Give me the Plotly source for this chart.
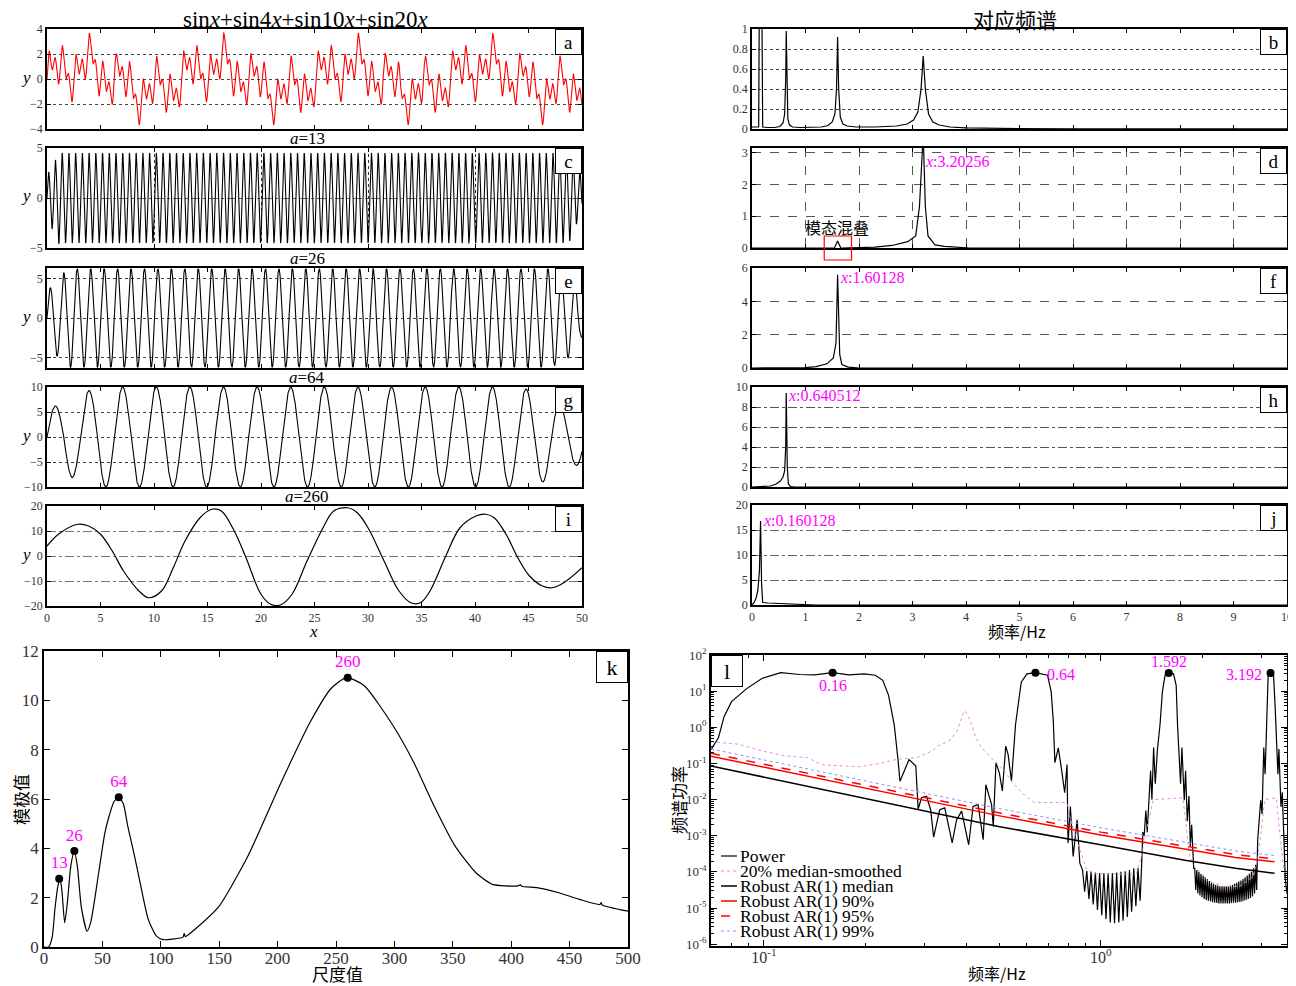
import numpy as np
import plotly.graph_objects as go

# reference canvas is 1296x986; the page body adds an 8px top/left margin, so the figure is shifted by 8px
W, H = 1296, 986
OFF = 8
FW, FH = W - OFF, H - OFF

# ---------------- DATA ----------------
# panel a: the signal named in the title, sin x+sin4x+sin10x+sin20x ; plotted axis value = 2 * argument
a_multipliers = [1, 4, 10, 20]
a_axis_to_arg = 0.5
x_max = 50

# wavelet components c, e, g: angular rate per axis unit and per-half-cycle amplitudes
c_rate = 10.0
c_amp_head = [2.6, 3.1, 3.8, 4.6]
c_amp_body = 4.5
c_amp_tail = [4.4, 4.3, 4.2, 2.6, 2.7, 1.2]
e_rate = 5.0
e_amp_head = [3.8, 4.8, 5.7, 6.2]
e_amp_body = 6.2
e_amp_tail = [6.0, 5.6, 5.0, 4.8, 2.4]
g_rate = 2.0
g_amp_head = [6.2, 8.1, 9.3]
g_amp_body = 10.0
g_amp_tail = [9.6, 9.0, 6.5, 5.7]

# panel i (a=260): points
i_x = [0, 1.07, 2.86, 3.9, 5.0, 6.1, 7.15, 8.6, 9.5, 10.7, 11.8, 12.9, 14.3, 15.4, 16.3, 17.5, 18.6,
       20.0, 20.9, 21.8, 22.9, 24.3, 25.8, 26.8, 28.1, 29.0, 30.0, 31.5, 32.9, 34.0, 34.9, 35.8,
       37.2, 38.6, 40.1, 41.0, 41.8, 42.9, 44.0, 45.1, 46.3, 47.2, 48.3, 50.0]
i_y = [4.0, 8.7, 12.7, 12.0, 8.7, 2.0, -6.0, -14.0, -16.7, -14.0, -4.7, 6.0, 15.3, 18.7, 18.0, 10.0, -0.7,
       -15.3, -19.3, -19.6, -15.3, -2.0, 11.3, 18.0, 19.3, 17.3, 11.3, -2.0, -14.0, -18.7, -18.7, -14.0,
       -0.7, 11.3, 16.0, 16.7, 15.3, 8.7, -0.7, -8.0, -12.0, -12.7, -10.7, -4.7]

# spectra (frequency Hz, amplitude)
b_f = [0, 0.12, 0.125, 0.14, 0.18, 0.195, 0.2, 0.3, 0.42, 0.52, 0.58, 0.61, 0.63, 0.64, 0.65, 0.67, 0.7, 0.76,
       0.9, 1.1, 1.3, 1.42, 1.5, 1.55, 1.58, 1.6, 1.62, 1.65, 1.7, 1.78, 1.95, 2.3, 2.7, 2.9, 3.02, 3.1, 3.16,
       3.2, 3.24, 3.3, 3.38, 3.5, 3.7, 4.0, 4.5, 5.0, 6.0, 8.0, 10.0]
b_v = [0.02, 0.02, 0.03, 1.6, 1.6, 0.03, 0.02, 0.015, 0.015, 0.025, 0.06, 0.15, 0.5, 0.98, 0.5, 0.1, 0.04, 0.02,
       0.015, 0.015, 0.02, 0.035, 0.07, 0.15, 0.4, 0.92, 0.4, 0.12, 0.05, 0.03, 0.02, 0.02, 0.03, 0.05, 0.09, 0.17, 0.4,
       0.73, 0.4, 0.15, 0.07, 0.04, 0.02, 0.012, 0.007, 0.004, 0.002, 0.001, 0.001]
d_f = [0, 1.3, 1.54, 1.6, 1.66, 2.0, 2.3, 2.62, 2.91, 3.06, 3.13, 3.2, 3.24, 3.29, 3.42, 3.6, 3.78, 4.07, 4.5, 10]
d_v = [0, 0, 0, 0.22, 0, 0.01, 0.03, 0.08, 0.2, 0.38, 1.3, 3.6, 1.3, 0.38, 0.1, 0.05, 0.03, 0.0, 0, 0]
f_f = [0, 1.0, 1.2, 1.4, 1.52, 1.57, 1.6, 1.62, 1.64, 1.68, 1.8, 2.0, 10]
f_v = [0, 0.02, 0.08, 0.25, 0.6, 1.5, 5.6, 2.0, 0.8, 0.2, 0.05, 0.0, 0]
h_f = [0, 0.2, 0.35, 0.45, 0.53, 0.58, 0.61, 0.63, 0.64, 0.66, 0.68, 0.72, 0.8, 10]
h_v = [0, 0.02, 0.1, 0.3, 0.6, 1.0, 1.6, 4.0, 9.4, 2.0, 0.3, 0.05, 0, 0]
j_f = [0, 0.04, 0.08, 0.11, 0.14, 0.16, 0.18, 0.2, 0.3, 0.5, 0.8, 1.0, 1.2, 10]
j_v = [0, 0.5, 1.5, 3.0, 7.0, 16.8, 4.0, 0.5, 0.4, 0.3, 0.2, 0.05, 0, 0]

spec_labels = {"d": (3.20256, "3.20256", 0.87), "f": (1.60128, "1.60128", 0.91),
               "h": (0.640512, "0.640512", 0.92), "j": (0.160128, "0.160128", 0.85)}

# panel k: modulus maxima vs scale
k_scale = [0, 4, 7, 9.6, 12, 13.8, 15.5, 17.7, 20, 23, 25.9, 28.5, 32, 36.9, 40, 46.8, 52, 55.7, 60, 64.2,
           68, 71.7, 77, 82.3, 89.4, 96.5, 101.9, 110, 119, 120, 121, 130, 149.8, 174.6, 203, 227.8, 245.6,
           259, 274, 298.8, 316.6, 334, 352, 369.8, 384, 405, 408, 409, 423, 440.8, 458.5, 476, 477, 478, 500]
k_val = [0, 0.0, 0.4, 1.65, 2.5, 2.77, 2.2, 0.98, 1.8, 3.3, 3.89, 3.3, 1.6, 0.64, 1.0, 3.0, 4.6, 5.3, 5.9, 6.07,
         5.8, 4.9, 3.8, 2.6, 1.1, 0.43, 0.30, 0.32, 0.40, 0.55, 0.42, 0.75, 1.65, 3.69, 6.67, 9.11, 10.47,
         10.92, 10.6, 8.98, 7.48, 5.72, 4.09, 3.01, 2.54, 2.47, 2.52, 2.46, 2.40, 2.20, 1.93, 1.72, 1.8, 1.7, 1.45]
k_peaks = [13, 26, 64, 260]
k_peak_val = [2.77, 3.89, 6.07, 10.92]

# panel l: power spectrum (log10 frequency, log10 power)
l_pow_lf = [-1.157, -1.135, -1.118, -1.096, -1.051, -1.006, -0.95, -0.894, -0.849, -0.796, -0.748, -0.703,
            -0.669, -0.647, -0.630, -0.613, -0.602, -0.596, -0.569, -0.549, -0.542, -0.532, -0.517, -0.505,
            -0.496, -0.478, -0.463, -0.441, -0.428, -0.413, -0.392, -0.379, -0.364, -0.349, -0.341, -0.324,
            -0.319, -0.311, -0.301, -0.292, -0.282, -0.275, -0.265, -0.253, -0.236, -0.219, -0.194, -0.169,
            -0.158, -0.147, -0.141, -0.136, -0.126, -0.117, -0.107, -0.100, -0.097, -0.090, -0.082, -0.070,
            -0.062]
l_pow_lp = [-0.62, -0.29, 0.30, 0.71, 1.07, 1.35, 1.51, 1.46, 1.45, 1.51, 1.45, 1.48,
            1.44, 1.30, 0.89, 0.07, -0.88, -1.49, -0.89, -1.07, -2.26, -1.95, -1.91, -2.28,
            -3.04, -2.28, -2.23, -3.2, -2.56, -2.32, -3.25, -2.19, -2.14, -3.11, -1.59, -2.14,
            -2.74, -0.98, -1.26, -1.76, -0.52, -0.75, -1.49, 0.07, 1.25, 1.48, 1.51, 1.46,
            1.44, 0.98, 0.2, -0.98, -0.57, -1.12, -1.81, -1.03, -3.2, -2.19, -3.57, -2.56,
            -3.76]
# dense side-lobes 1 (between 0.64 and 1.592 peaks)
l_lobe1_lf = (-0.054, 0.117)
l_lobe1_top = [-3.95, -3.98, -4.0, -4.02, -4.03, -4.03, -4.03, -4.03, -4.02, -4.0, -3.98, -3.95, -3.9, -3.9]
l_lobe1_bot = [-4.55, -4.75, -4.9, -5.05, -5.2, -5.3, -5.4, -5.42, -5.4, -5.35, -5.25, -5.1, -4.95, -4.8]
l_pk2_lf = [0.121, 0.125, 0.129, 0.134, 0.138, 0.143, 0.148, 0.152, 0.157, 0.162, 0.168, 0.176, 0.183, 0.191,
            0.204, 0.216, 0.224, 0.228, 0.232, 0.237, 0.241, 0.248, 0.252, 0.257, 0.262, 0.266, 0.270, 0.276]
l_pk2_lp = [-3.93, -2.9, -3.0, -2.3, -2.9, -2.2, -1.2, -2.0, -0.56, -1.56, -0.65, 0.07, 0.98, 1.44,
            1.51, 1.48, 1.16, 0.07, -0.75, -1.56, -0.56, -2.02, -1.2, -2.6, -1.9, -3.3, -2.7, -3.9]
# dense side-lobes 2 (between 1.592 and 3.192 peaks)
l_lobe2_lf = (0.279, 0.463)
l_lobe2_top = [-3.9, -3.95, -4.0, -4.05, -4.1, -4.15, -4.2, -4.25, -4.3, -4.33, -4.36, -4.38, -4.4, -4.4, -4.4,
               -4.4, -4.4, -4.38, -4.36, -4.33, -4.3, -4.27, -4.24, -4.2, -4.15, -4.1, -4.05, -4.0, -3.9, -3.8]
l_lobe2_bot = [-4.5, -4.6, -4.65, -4.7, -4.75, -4.78, -4.8, -4.82, -4.84, -4.85, -4.86, -4.87, -4.87, -4.87, -4.87,
               -4.87, -4.87, -4.86, -4.85, -4.85, -4.84, -4.83, -4.82, -4.8, -4.78, -4.75, -4.72, -4.68, -4.6, -4.5]
l_pk3_lf = [0.466, 0.475, 0.479, 0.484, 0.488, 0.493, 0.497, 0.505, 0.513, 0.518, 0.522, 0.526, 0.529, 0.535,
            0.539, 0.544, 0.548, 0.553]
l_pk3_lp = [-3.11, -2.02, -2.4, -0.56, -1.3, 0.53, 1.44, 1.51, 1.44, 0.53, -0.56, -1.3, -0.6, -2.2,
            -1.8, -3.11, -4.2, -4.6]

l_smooth_lf = [-1.157, -1.073, -1.006, -0.939, -0.871, -0.826, -0.781, -0.714, -0.658, -0.602, -0.545, -0.5,
               -0.484, -0.45, -0.427, -0.41, -0.403, -0.388, -0.371, -0.354, -0.321, -0.287, -0.259, -0.231,
               -0.197, -0.101, -0.092, -0.072, -0.042, -0.013, 0.105, 0.121, 0.136, 0.156, 0.244, 0.254,
               0.264, 0.279, 0.314, 0.363, 0.413, 0.452, 0.467, 0.477, 0.487, 0.521, 0.531, 0.541, 0.553]
l_smooth_lp = [-0.40, -0.47, -0.65, -0.79, -0.84, -1.04, -1.06, -1.09, -1.0, -0.88, -0.84, -0.65,
               -0.52, -0.38, -0.11, 0.35, 0.46, 0.21, -0.29, -0.56, -0.88, -1.2, -1.56, -1.84,
               -2.08, -2.08, -2.46, -3.1, -3.94, -4.06, -4.06, -3.57, -2.83, -2.0, -1.95, -2.83,
               -3.57, -3.85, -4.22, -4.40, -4.40, -4.13, -3.57, -2.83, -2.0, -1.95, -2.83, -3.76, -4.3]

l_ar_lf = [-1.157, -0.3, 0.0, 0.25, 0.4, 0.516]
l_ar_med = [-1.07, -2.75, -3.25, -3.68, -3.9, -4.04]
l_ar_90 = [-0.80, -2.45, -2.98, -3.38, -3.6, -3.72]
l_ar_95 = [-0.72, -2.37, -2.9, -3.3, -3.52, -3.64]
l_ar_99 = [-0.60, -2.25, -2.78, -3.18, -3.42, -3.55]

l_peaks = [0.16, 0.64, 1.592, 3.192]
l_peaks_lp = [1.51, 1.51, 1.50, 1.50]
l_peak_text = ["0.16", "0.64", "1.592", "3.192"]

l_xtick_vals = [0.1, 1]
l_xtick_text = ["10<sup>-1</sup>", "10<sup>0</sup>"]
l_ytick_exp = [2, 1, 0, -1, -2, -3, -4, -5, -6]

legend_names = ["Power", "20% median-smoothed", "Robust AR(1) median", "Robust AR(1) 90%",
                "Robust AR(1) 95%", "Robust AR(1) 99%"]

# ---------------- BUILD SERIES ----------------
u = np.linspace(0, x_max, 8001)
a_y = sum(np.sin(m * a_axis_to_arg * u) for m in a_multipliers)


def wave(rate, head, body, tail):
    n = int(np.ceil(x_max * rate / np.pi))
    amps = np.array(head + [body] * (n - len(head) - len(tail)) + tail)
    k = np.minimum((u * rate / np.pi).astype(int), n - 1)
    return amps[k] * np.sin(rate * u)


c_y = wave(c_rate, c_amp_head, c_amp_body, c_amp_tail)
e_y = wave(e_rate, e_amp_head, e_amp_body, e_amp_tail)
g_y = wave(g_rate, g_amp_head, g_amp_body, g_amp_tail)


def lobes(span, tops, bots):
    n = len(tops)
    xs = np.linspace(span[0], span[1], 2 * n)
    ys = []
    for t, b in zip(tops, bots):
        ys += [t, b]
    return list(xs), ys


lx1, ly1 = lobes(l_lobe1_lf, l_lobe1_top, l_lobe1_bot)
lx2, ly2 = lobes(l_lobe2_lf, l_lobe2_top, l_lobe2_bot)
pow_lf = l_pow_lf + lx1 + l_pk2_lf + lx2 + l_pk3_lf
pow_lp = l_pow_lp + ly1 + l_pk2_lp + ly2 + l_pk3_lp


def tp(v):
    return list(np.power(10.0, np.array(v)))


# ---------------- FIGURE ----------------
fig = go.Figure()
SERIF = "Liberation Serif"
CJK = "Noto Sans CJK SC"
TICKF = dict(family=SERIF, size=12, color="#333")


def fx(p):
    return (p - OFF) / FW


def fy(p):
    return 1 - (p - OFF) / FH


def dom_x(p0, p1):
    return [fx(p0), fx(p1)]


def dom_y(p0, p1):
    return [fy(p1), fy(p0)]


LEFT = (47, 582)
RIGHT = (752, 1287)
ROWS = [(29, 129), (148, 248), (268, 368), (387, 487), (506, 606)]

panels = {
    "a": dict(n=1, xd=LEFT, yd=ROWS[0]),
    "c": dict(n=2, xd=LEFT, yd=ROWS[1]),
    "e": dict(n=3, xd=LEFT, yd=ROWS[2]),
    "g": dict(n=4, xd=LEFT, yd=ROWS[3]),
    "i": dict(n=5, xd=LEFT, yd=ROWS[4]),
    "b": dict(n=6, xd=RIGHT, yd=ROWS[0]),
    "d": dict(n=7, xd=RIGHT, yd=ROWS[1]),
    "f": dict(n=8, xd=RIGHT, yd=ROWS[2]),
    "h": dict(n=9, xd=RIGHT, yd=(387, 487)),
    "j": dict(n=10, xd=RIGHT, yd=(505, 605)),
    "k": dict(n=11, xd=(44, 628), yd=(651, 947)),
    "l": dict(n=12, xd=(711, 1287), yd=(655, 946)),
}


def ax(n):
    return ("x" if n == 1 else f"x{n}"), ("y" if n == 1 else f"y{n}")


def ln(n):
    return ("xaxis" if n == 1 else f"xaxis{n}"), ("yaxis" if n == 1 else f"yaxis{n}")


# traces
wave_series = {"a": (a_y, "red"), "c": (c_y, "black"), "e": (e_y, "black"), "g": (g_y, "black")}
for key, (yy, col) in wave_series.items():
    xr, yr = ax(panels[key]["n"])
    fig.add_trace(go.Scatter(x=u, y=yy, mode="lines", line=dict(color=col, width=1.1),
                             xaxis=xr, yaxis=yr, showlegend=False, hoverinfo="skip"))
xr, yr = ax(panels["i"]["n"])
fig.add_trace(go.Scatter(x=i_x, y=i_y, mode="lines", line=dict(color="black", width=1.2, shape="spline", smoothing=1.0),
                         xaxis=xr, yaxis=yr, showlegend=False))

spec_series = {"b": (b_f, b_v), "d": (d_f, d_v), "f": (f_f, f_v), "h": (h_f, h_v), "j": (j_f, j_v)}
for key, (ff, vv) in spec_series.items():
    xr, yr = ax(panels[key]["n"])
    fig.add_trace(go.Scatter(x=ff, y=vv, mode="lines", line=dict(color="black", width=1.2),
                             xaxis=xr, yaxis=yr, showlegend=False))

xr, yr = ax(11)
fig.add_trace(go.Scatter(x=k_scale, y=k_val, mode="lines", line=dict(color="black", width=1.2, shape="spline", smoothing=0.6),
                         xaxis=xr, yaxis=yr, showlegend=False))
fig.add_trace(go.Scatter(x=k_peaks, y=k_peak_val, mode="markers+text", marker=dict(color="black", size=8),
                         text=[str(p) for p in k_peaks], textposition="top center",
                         textfont=dict(family=SERIF, size=17, color="#ff00ff"),
                         xaxis=xr, yaxis=yr, showlegend=False))

xr, yr = ax(12)
l_styles = [dict(color="black", width=1.2),
            dict(color="#e88ae8", width=1, dash="dot"),
            dict(color="black", width=1.5),
            dict(color="red", width=1.5),
            dict(color="red", width=1.5, dash="dash"),
            dict(color="#8f8fff", width=1, dash="dot")]
l_series = [(pow_lf, pow_lp), (l_smooth_lf, l_smooth_lp), (l_ar_lf, l_ar_med), (l_ar_lf, l_ar_90),
            (l_ar_lf, l_ar_95), (l_ar_lf, l_ar_99)]
for name, sty, (lf, lp) in zip(legend_names, l_styles, l_series):
    fig.add_trace(go.Scatter(x=tp(lf), y=tp(lp), mode="lines", name=name, line=sty,
                             xaxis=xr, yaxis=yr, showlegend=False))
fig.add_trace(go.Scatter(x=l_peaks, y=tp(l_peaks_lp), mode="markers", marker=dict(color="black", size=8),
                         xaxis=xr, yaxis=yr, showlegend=False))

# axes
base_axis = dict(showline=True, linecolor="black", linewidth=1.5, mirror="ticks", ticks="inside",
                 ticklen=4, tickcolor="black", zeroline=False, tickfont=TICKF, showgrid=False,
                 automargin=False)

wave_y = {"a": ([-4, 4], [-4, -2, 0, 2, 4], "dot", "#444"),
          "c": ([-5, 5], [-5, 0, 5], "dashdot", "#666"),
          "e": ([-6.3, 6.3], [-5, 0, 5], "dot", "#444"),
          "g": ([-10, 10], [-10, -5, 0, 5, 10], "dot", "#444"),
          "i": ([-20, 20], [-20, -10, 0, 10, 20], "dashdot", "#777")}
for key, (yrng, yt, dash, gcol) in wave_y.items():
    p = panels[key]
    xn, yn = ln(p["n"])
    xa = dict(base_axis, domain=dom_x(*p["xd"]), range=[0, 50], tickvals=list(range(0, 51, 5)),
              showticklabels=(key == "i"), anchor=ax(p["n"])[1])
    if key == "c":
        xa.update(showgrid=True, gridcolor="#333", griddash="dot", gridwidth=1, tickvals=[0, 10, 20, 30, 40, 50])
    ya = dict(base_axis, domain=dom_y(*p["yd"]), range=yrng, tickvals=yt, showgrid=True, griddash=dash,
              gridcolor=gcol, gridwidth=1, anchor=ax(p["n"])[0])
    fig.update_layout({xn: xa, yn: ya})

spec_y = {"b": ([0, 1], [0, 0.2, 0.4, 0.6, 0.8, 1], "dot", "#444"),
          "d": ([0, 3.15], [0, 1, 2, 3], "dash", "#555"),
          "f": ([0, 6], [0, 2, 4, 6], "dash", "#555"),
          "h": ([0, 10], [0, 2, 4, 6, 8, 10], "dashdot", "#555"),
          "j": ([0, 20], [0, 5, 10, 15, 20], "dashdot", "#666")}
for key, (yrng, yt, dash, gcol) in spec_y.items():
    p = panels[key]
    xn, yn = ln(p["n"])
    xa = dict(base_axis, domain=dom_x(*p["xd"]), range=[0, 10], tickvals=list(range(0, 11)),
              showticklabels=(key == "j"), anchor=ax(p["n"])[1])
    if key == "d":
        xa.update(showgrid=True, gridcolor="#555", griddash="dash", gridwidth=1)
    ya = dict(base_axis, domain=dom_y(*p["yd"]), range=yrng, tickvals=yt, showgrid=True, griddash=dash,
              gridcolor=gcol, gridwidth=1, anchor=ax(p["n"])[0])
    fig.update_layout({xn: xa, yn: ya})

p = panels["k"]
big_tick = dict(family=SERIF, size=17, color="#333")
fig.update_layout(
    xaxis11=dict(base_axis, domain=dom_x(*p["xd"]), range=[0, 500], tickvals=list(range(0, 501, 50)),
                 tickfont=big_tick, anchor="y11", ticklen=6, ticklabelstandoff=-5),
    yaxis11=dict(base_axis, domain=dom_y(*p["yd"]), range=[0, 12], tickvals=list(range(0, 13, 2)),
                 tickfont=big_tick, anchor="x11", ticklen=6),
)
p = panels["l"]
fig.update_layout(
    xaxis12=dict(base_axis, type="log", domain=dom_x(*p["xd"]), range=[-1.157, 0.553],
                 tickvals=l_xtick_vals, ticktext=l_xtick_text, ticklabelstandoff=-4,
                 tickfont=dict(family=SERIF, size=16, color="#333"), anchor="y12",
                 ticklen=6, minor=dict(ticks="inside", ticklen=3, tickcolor="black", dtick="D1")),
    yaxis12=dict(base_axis, type="log", domain=dom_y(*p["yd"]), range=[-6.05, 2.0],
                 tickvals=[10.0 ** e for e in l_ytick_exp],
                 ticktext=[f"10<sup>{e}</sup>" for e in l_ytick_exp],
                 tickfont=dict(family=SERIF, size=13, color="#333"), anchor="x12",
                 ticklen=6, minor=dict(ticks="inside", ticklen=3, tickcolor="black", dtick="D1")),
)

# annotations
ann = []


def txt(x, y, s, size=16, family=SERIF, color="black", xanchor="center", yanchor="middle", **kw):
    ann.append(dict(x=fx(x), y=fy(y), xref="paper", yref="paper", text=s, showarrow=False,
                    font=dict(family=family, size=size, color=color), xanchor=xanchor, yanchor=yanchor, **kw))


txt(305, 19.5, "sin<i>x</i>+sin4<i>x</i>+sin10<i>x</i>+sin20<i>x</i>", size=23)
txt(1015, 19, "对应频谱", size=21, family=CJK)
for ttl, yy in [("13", 139), ("26", 258), ("64", 377), ("260", 496)]:
    txt(307, yy, f"<i>a</i>={ttl}", size=17)
for key in ["a", "c", "e", "g", "i"]:
    y0, y1 = panels[key]["yd"]
    txt(26, (y0 + y1) / 2 - 2, "<i>y</i>", size=17)
txt(313, 631, "<i>x</i>", size=17)
txt(1017, 631, "频率/Hz", size=16, family=CJK)
txt(337, 973, "尺度值", size=17, family=CJK)
txt(997, 973, "频率/Hz", size=16, family=CJK)
txt(20, 800, "模极值", size=17, family=CJK, textangle=-90)
txt(678, 800, "频谱功率", size=17, family=CJK, textangle=-90)

# panel letter boxes
for key, p in panels.items():
    xr, yr = ax(p["n"])
    left = key == "l"
    big = key in ("k", "l")
    ann.append(dict(x=0 if left else 1, y=1, xref=f"{xr} domain", yref=f"{yr} domain", text=key, showarrow=False,
                    xanchor="left" if left else "right", yanchor="top", bgcolor="white", bordercolor="black",
                    borderwidth=1, width=28 if big else 23, height=28 if big else 22, borderpad=1,
                    font=dict(family=SERIF, size=22 if big else 19, color="black")))

# spectral peak labels
for key, (fxv, s, ypos) in spec_labels.items():
    xr, yr = ax(panels[key]["n"])
    ann.append(dict(x=fxv, y=ypos, xref=xr, yref=f"{yr} domain", text=f"<i>x</i>:{s}", showarrow=False,
                    xanchor="left", yanchor="middle", font=dict(family=SERIF, size=16, color="#ff00ff")))

# mode mixing note in d
ann.append(dict(x=1.58, y=0.21, xref="x7", yref="y7 domain", text="模态混叠", showarrow=False,
                font=dict(family=CJK, size=16, color="black"), xanchor="center", yanchor="middle"))

# panel l peak labels
l_lab_pos = [(0, -13, "center"), (10, -2, "left"), (0, 12, "center"), (-7, -1, "right")]
for f0, lp, s, (dx, dy, xa_) in zip(l_peaks, l_peaks_lp, l_peak_text, l_lab_pos):
    ann.append(dict(x=np.log10(f0), y=lp, xref="x12", yref="y12", text=s, showarrow=False,
                    xshift=dx, yshift=dy, xanchor=xa_, yanchor="middle",
                    font=dict(family=SERIF, size=16, color="#ff00ff")))

# manual compact legend for panel l
shapes = []
leg_x0, leg_top, leg_step = 721, 856, 15.0
for idx, (name, sty) in enumerate(zip(legend_names, l_styles)):
    yy = leg_top + idx * leg_step
    shapes.append(dict(type="line", xref="paper", yref="paper", x0=fx(leg_x0), x1=fx(leg_x0 + 16),
                       y0=fy(yy), y1=fy(yy),
                       line=dict(color=sty["color"], width=sty["width"], dash=sty.get("dash", "solid"))))
    txt(leg_x0 + 17, yy, name, size=17.5, xanchor="left")

shapes.append(dict(type="rect", xref="x7", yref="y7 domain", x0=1.35, x1=1.86, y0=-0.12, y1=0.12,
                   line=dict(color="red", width=1.2)))

fig.update_layout(
    annotations=ann, shapes=shapes,
    width=FW, height=FH, margin=dict(l=0, r=0, t=0, b=0, autoexpand=False),
    paper_bgcolor="white", plot_bgcolor="white", showlegend=False,
)

fig.write_html("out.html")
